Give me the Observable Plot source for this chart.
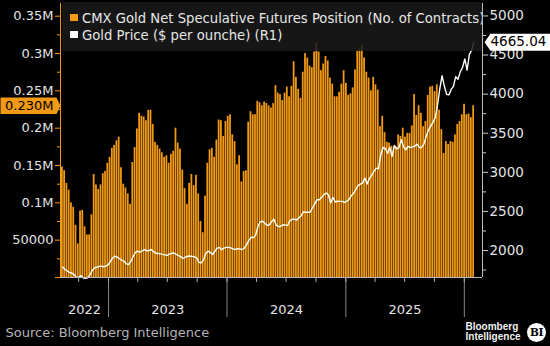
<!DOCTYPE html>
<html><head><meta charset="utf-8">
<script src="https://cdn.jsdelivr.net/npm/d3@7"></script>
<script src="https://cdn.jsdelivr.net/npm/@observablehq/plot@0.6"></script>
<style>
html,body{margin:0;padding:0;background:#000;}
#wrap{position:relative;width:550px;height:346px;overflow:hidden;background:#000;}
#legend{position:absolute;left:62px;top:2px;width:420px;height:49px;background:rgba(26,26,26,0.86);overflow:hidden;white-space:nowrap;font-family:"DejaVu Sans";font-size:13.2px;color:#e6e6e6;}
#legend .sw{position:absolute;left:8px;width:8px;height:7.5px;}
#legend .tx{position:absolute;left:20px;line-height:normal;}
#bi{position:absolute;left:527px;top:323px;width:19px;height:19px;border-radius:50%;background:#fff;color:#000;font:bold 10.5px "DejaVu Serif";line-height:19px;text-align:center;letter-spacing:-0.5px;}
</style>
</head><body>
<div id="wrap"></div>
<script>
// ---- data ----
const firstWeek = "2022-08-09"; // weekly observations
// CMX gold net speculative futures position, thousands of contracts
const positions = [
 148,143,126,117,100,94,70,45,89,90,68,57,57,84,138,124,118,124,139,142,153,161,173,177,183,188,147,125,120,112,98,154,174,199,220,216,215,210,224,224,205,181,177,172,167,
 161,163,153,165,169,200,180,172,144,119,98,126,138,123,137,112,75,60,109,153,171,173,161,184,211,210,189,209,216,218,191,182,151,163,128,142,143,208,222,218,218,236,234,230,235,233,
 230,227,233,257,247,245,237,247,255,242,256,289,268,252,240,275,300,294,283,281,302,314,302,277,286,296,290,267,259,242,242,248,259,277,260,244,246,254,278,303,306,311,294,275,267,250,
 268,258,251,202,216,194,181,180,176,175,175,191,189,200,188,193,193,203,245,217,230,220,202,209,244,255,256,249,258,224,198,166,182,178,182,181,191,205,209,218,232,218,219,214,230
];
// Gold price, $ per ounce
const prices = [
 1790,1760,1740,1720,1712,1694,1660,1655,1681,1650,1645,1652,1685,1745,1778,1786,1795,1800,1792,1800,1815,1858,1905,1927,1915,1895,1878,1863,1830,1821,1860,1920,1975,1991,1980,1995,2013,1995,2000,2013,1985,1965,1962,1957,1950,
 1945,1938,1955,1965,1968,1950,1935,1922,1898,1915,1927,1930,1925,1920,1905,1850,1842,1880,1965,1991,1975,1949,1990,2030,2040,2010,2030,2040,2040,2033,2020,2013,2025,2020,2013,2030,2075,2130,2170,2165,2200,2310,2370,2374,2350,2320,
 2330,2370,2400,2325,2305,2310,2330,2325,2320,2380,2400,2400,2390,2420,2445,2495,2490,2490,2492,2550,2600,2650,2650,2680,2714,2735,2710,2610,2680,2620,2630,2628,2628,2615,2630,2650,2700,2730,2780,2830,2850,2865,2926,2850,2920,2960,
 3011,3054,3045,3224,3318,3305,3245,3318,3203,3343,3300,3313,3416,3330,3288,3330,3318,3325,3335,3360,3318,3318,3360,3460,3540,3590,3640,3700,3860,4070,4236,4100,3997,3990,4060,4100,4223,4190,4285,4340,4450,4308,4508,4560,4665.04
];
const leftTicks = [0, 50000, 100000, 150000, 200000, 250000, 300000, 350000];
const leftMinor = [25000, 75000, 125000, 175000, 225000, 275000, 325000];
const rightTicks = [2000, 2500, 3000, 3500, 4000, 4500, 5000];
const rightMinor = [1750, 2250, 2750, 3250, 3750, 4250, 4750];
const yearLabels = [2022, 2023, 2024, 2025];
const legendLabels = ["CMX Gold Net Speculative Futures Position (No. of Contracts)", "Gold Price ($ per ounche) (R1)"];
const source = "Source: Bloomberg Intelligence";
const logoLines = ["Bloomberg", "Intelligence"];
const logoMark = "BI";

// ---- scales setup ----
const ORANGE = "#f39a14";
const xDomain = [new Date("2022-08-06"), new Date("2026-02-26")];
const V1 = 367000, P0 = 1655, P1 = 5159;
const toY = p => (p - P0) / (P1 - P0) * V1;
const fromY = v => P0 + v / V1 * (P1 - P0);
const blank = () => "";

const start = new Date(firstWeek);
const bars = positions.map((v, i) => {
  const d = d3.utcDay.offset(start, 7 * i);
  return {date: d, end: d3.utcDay.offset(d, 7), value: v * 1000};
});
const priceRows = prices.map((p, i) => ({date: d3.utcHour.offset(bars[i].date, 84), price: p}));
const lastBar = bars[bars.length - 1];
const lastPrice = priceRows[priceRows.length - 1];

const yearStarts = d3.utcYear.range(xDomain[0], xDomain[1]).filter(d => d > xDomain[0]);
const quarterStarts = d3.utcMonth.every(3).range(xDomain[0], xDomain[1]);
const yearMid = yearLabels.map(y => {
  const a = new Date(Math.max(Date.UTC(y, 0, 1), +xDomain[0]));
  const b = new Date(Math.min(Date.UTC(y + 1, 0, 1), +xDomain[1]));
  return {label: String(y), date: new Date((+a + +b) / 2)};
});

const tagLeft = {draw(c) { c.moveTo(-60, -8.3); c.lineTo(-4, -8.3); c.lineTo(0, 0); c.lineTo(-4, 8.3); c.lineTo(-60, 8.3); c.closePath(); }};
const tagRight = {draw(c) { c.moveTo(0, 0); c.lineTo(6, -8.5); c.lineTo(66, -8.5); c.lineTo(66, 8.5); c.lineTo(6, 8.5); c.closePath(); }};

const chart = Plot.plot({
  width: 550, height: 346,
  marginLeft: 60, marginRight: 68, marginTop: 3, marginBottom: 69,
  style: {background: "#000", color: "#e4e4e4", fontFamily: "DejaVu Sans", fontSize: "13px", overflow: "visible"},
  x: {type: "utc", domain: xDomain},
  y: {domain: [0, V1]},
  marks: [
    Plot.rectY(bars, {x1: "date", x2: "end", y: "value", fill: ORANGE, insetRight: 0.5}),
    Plot.line(priceRows, {x: "date", y: d => toY(d.price), stroke: "#fff", strokeWidth: 1.4}),
    Plot.ruleY([0], {stroke: "#bbb"}),
    Plot.ruleX([xDomain[0]], {stroke: ORANGE}),
    Plot.ruleX([xDomain[1]], {stroke: "#bbb"}),
    Plot.axisX({ticks: yearStarts, tickSize: 40, tickFormat: blank, stroke: "#888", label: null}),
    Plot.axisX({ticks: quarterStarts, tickSize: 5, tickFormat: blank, stroke: "#aaa", label: null}),
    Plot.text(yearMid, {x: "date", text: "label", frameAnchor: "bottom", lineAnchor: "bottom", dy: 36, fill: "#e4e4e4", fontSize: 13}),
    Plot.axisY({ticks: leftTicks, tickSize: 5, tickPadding: 2, stroke: ORANGE, fill: "#e4e4e4", label: null, fontSize: 13,
      tickFormat: v => v === 0 ? "" : v === 50000 ? "50000" : (v / 1e6) + "M"}),
    Plot.axisY({ticks: leftMinor, tickSize: 3, tickFormat: blank, stroke: ORANGE, label: null}),
    Plot.axisY({anchor: "right", ticks: rightTicks.map(toY), tickSize: 5, tickPadding: 2, stroke: "#ccc", fill: "#e4e4e4", label: null, fontSize: 13.5,
      tickFormat: v => String(Math.round(fromY(v)))}),
    Plot.axisY({anchor: "right", ticks: rightMinor.map(toY), tickSize: 3, tickFormat: blank, stroke: "#ccc", label: null}),
    Plot.dot([lastBar], {y: "value", frameAnchor: "left", symbol: tagLeft, fill: ORANGE, r: 5}),
    Plot.text([lastBar], {y: "value", frameAnchor: "left", dx: -7, textAnchor: "end", text: d => (d.value / 1e6).toFixed(3) + "M", fill: "#000", fontSize: 13}),
    Plot.dot([lastPrice], {y: d => toY(d.price), frameAnchor: "right", dx: 2, symbol: tagRight, fill: "#fff", r: 5}),
    Plot.text([lastPrice], {y: d => toY(d.price), frameAnchor: "right", dx: 8, textAnchor: "start", text: d => d.price.toFixed(2), fill: "#000", fontSize: 13.5}),
    Plot.text([source], {frameAnchor: "bottom-left", dx: -55, dy: 59, lineAnchor: "bottom", textAnchor: "start", text: d => d, fill: "#b4b4b4", fontSize: 13}),
    Plot.text([logoLines[0]], {frameAnchor: "bottom-right", dx: -17, dy: 52, lineAnchor: "bottom", textAnchor: "start", text: d => d, fill: "#f0f0f0", fontSize: 10, fontWeight: "bold", fontFamily: "Liberation Sans"}),
    Plot.text([logoLines[1]], {frameAnchor: "bottom-right", dx: -17, dy: 62, lineAnchor: "bottom", textAnchor: "start", text: d => d, fill: "#f0f0f0", fontSize: 10, fontWeight: "bold", fontFamily: "Liberation Sans"})
  ]
});
const wrap = document.getElementById("wrap");
wrap.appendChild(chart);

// legend overlay at the top of the plot area
const legend = document.createElement("div");
legend.id = "legend";
const swColors = [ORANGE, "#ffffff"];
const swTops = [11.5, 28.5];
const txTops = [8.7, 25.7];
legendLabels.forEach((t, i) => {
  const s = document.createElement("span");
  s.className = "sw"; s.style.top = swTops[i] + "px"; s.style.background = swColors[i];
  const x = document.createElement("span");
  x.className = "tx"; x.style.top = txTops[i] + "px"; x.textContent = t;
  legend.appendChild(s); legend.appendChild(x);
});
wrap.appendChild(legend);

// Bloomberg Intelligence badge
const bi = document.createElement("div");
bi.id = "bi"; bi.textContent = logoMark;
wrap.appendChild(bi);
</script>
</body></html>
